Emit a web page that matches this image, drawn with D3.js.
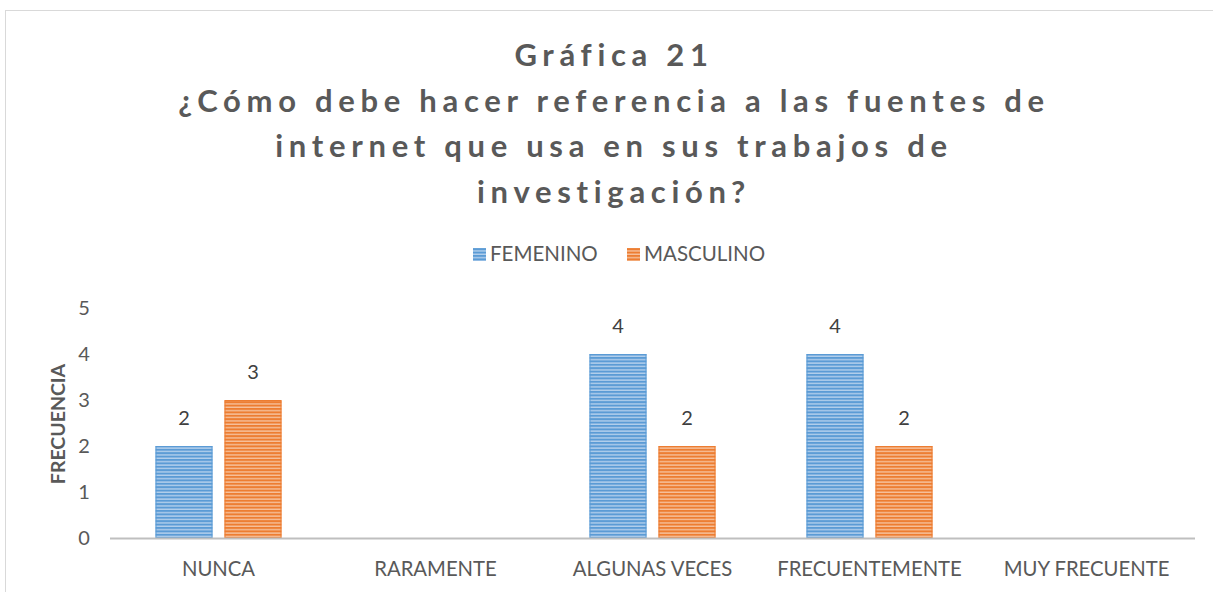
<!DOCTYPE html>
<html><head><meta charset="utf-8">
<script src="https://cdn.jsdelivr.net/npm/d3@7"></script>
<style>
body{margin:0;background:#fff;}
svg{display:block;}
</style></head>
<body>
<script>
const categories = ["NUNCA","RARAMENTE","ALGUNAS VECES","FRECUENTEMENTE","MUY FRECUENTE"];
const seriesNames = ["FEMENINO","MASCULINO"];
const femenino = [2,0,4,4,0];
const masculino = [3,0,2,2,0];
const yTicks = [0,1,2,3,4,5];
const titleLines = ["Gráfica 21","¿Cómo debe hacer referencia a las fuentes de","internet que usa en sus trabajos de","investigación?"];
const yTitle = "FRECUENCIA";

const W=1213,H=592;
const svg=d3.select("body").append("svg").attr("width",W).attr("height",H);
const font="Lato, 'Open Sans', sans-serif";
const txt="#595959";

const defs=svg.append("defs");
function stripe(id,base,light){
  const p=defs.append("pattern").attr("id",id).attr("patternUnits","userSpaceOnUse").attr("width",6).attr("height",3.4);
  p.append("rect").attr("width",6).attr("height",3.4).attr("fill",base);
  p.append("rect").attr("y",2).attr("width",6).attr("height",1.4).attr("fill",light);
}
stripe("pf","#5B9BD5","#B4D0EC");
stripe("pm","#ED7D31","#F6C19C");
const fills=["url(#pf)","url(#pm)"];
const solid=["#5B9BD5","#ED7D31"];

// border
svg.append("rect").attr("x",5.5).attr("y",10.5).attr("width",1215).attr("height",600).attr("fill","none").attr("stroke","#D9D9D9").attr("stroke-width",1);

// title
svg.append("g").selectAll("text").data(titleLines).join("text")
  .attr("x",614).attr("y",(d,i)=>66+i*45.5)
  .attr("text-anchor","middle").attr("font-family",font).attr("font-weight","bold")
  .attr("font-size",31).attr("letter-spacing",5.7).attr("fill",txt).text(d=>d);

// scales
const x0=d3.scaleBand().domain(categories).range([110,1195]);
const x1=d3.scaleBand().domain(seriesNames).range([0,126]).paddingInner(0.174);
const y=d3.scaleLinear().domain([0,5]).range([538,308]);

// y ticks
svg.append("g").selectAll("text").data(yTicks).join("text")
  .attr("x",84).attr("y",d=>y(d)+7).attr("text-anchor","middle")
  .attr("font-family",font).attr("font-size",20).attr("fill",txt).text(d=>d);

// y title
svg.append("text").attr("transform","translate(65,424) rotate(-90)")
  .attr("text-anchor","middle").attr("font-family",font).attr("font-weight","bold")
  .attr("font-size",19.5).attr("fill",txt).text(yTitle);

// bars
const data=categories.map((c,i)=>({c,vals:[femenino[i],masculino[i]]}));
const g=svg.append("g");
data.forEach(d=>{
  const gx=x0(d.c)+x0.bandwidth()/2-63;
  d.vals.forEach((v,j)=>{
    if(v<=0) return;
    const bx=gx+x1(seriesNames[j]);
    g.append("rect").attr("x",bx).attr("y",y(v)).attr("width",x1.bandwidth()).attr("height",y(0)-y(v))
      .attr("fill",fills[j]);
    g.append("rect").attr("x",bx+0.5).attr("y",y(v)+0.5).attr("width",x1.bandwidth()-1).attr("height",y(0)-y(v)-1)
      .attr("fill","none").attr("stroke",solid[j]).attr("stroke-width",1);
    g.append("text").attr("x",bx+x1.bandwidth()/2).attr("y",y(v)-21).attr("text-anchor","middle")
      .attr("font-family",font).attr("font-size",20).attr("fill","#404040").text(v);
  });
});

// axis line
svg.append("line").attr("x1",110).attr("x2",1195).attr("y1",538.5).attr("y2",538.5).attr("stroke","#BFBFBF").attr("stroke-width",2);

// category labels
svg.append("g").selectAll("text").data(categories).join("text")
  .attr("x",d=>x0(d)+x0.bandwidth()/2).attr("y",576).attr("text-anchor","middle")
  .attr("font-family",font).attr("font-size",20.3).attr("fill",txt).text(d=>d);

// legend
const leg=[{n:seriesNames[0],x:473},{n:seriesNames[1],x:627}];
leg.forEach((l,i)=>{
  svg.append("rect").attr("x",l.x).attr("y",248).attr("width",13).attr("height",13).attr("fill",fills[i]);
  svg.append("text").attr("x",l.x+17).attr("y",261).attr("font-family",font).attr("font-size",20.5).attr("fill",txt).text(l.n);
});
</script>
</body></html>
